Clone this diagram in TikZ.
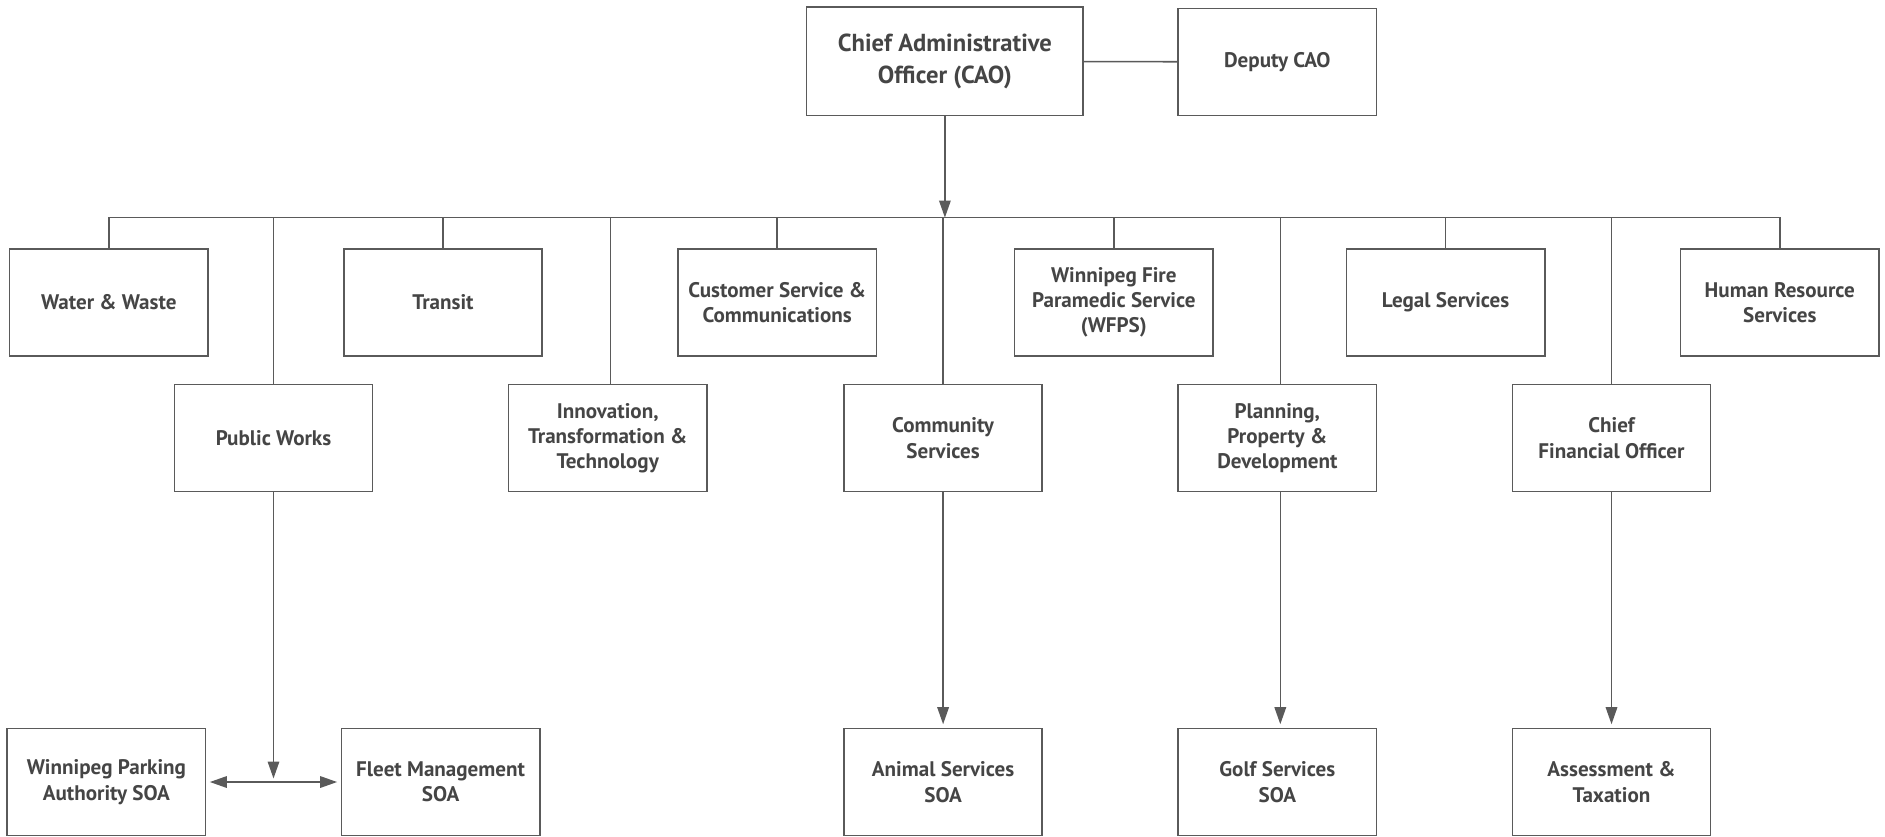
\documentclass[tikz,border=0pt]{standalone}
\usepackage{fontspec}
\setmainfont{PT Sans}
\usetikzlibrary{positioning,arrows.meta}
\definecolor{orgline}{HTML}{5A5A5A}
\definecolor{orgtext}{HTML}{454545}
\tikzset{
  linkline/.style={line width=0.9pt, draw=orgline},
  linkarrow/.style={linkline, -{Triangle[length=3.4mm, width=2.3mm]}},
  bothwayarrow/.style={linkline, {Triangle[length=3.4mm, width=2.3mm]}-{Triangle[length=3.4mm, width=2.3mm]}},
  unitbox/.style={draw=orgline, line width=0.9pt, fill=white, minimum width=3.967cm, minimum height=2.14cm, align=center, text=orgtext, font=\bfseries\fontsize{12}{14.4}\selectfont},
  topbox/.style={unitbox, minimum width=5.53cm, minimum height=2.164cm, font=\bfseries\fontsize{14}{18.4}\selectfont}
}
\begin{document}
\begin{tikzpicture}[x=0.024044cm, y=-0.024044cm]
  \useasboundingbox (0,0) rectangle (1568,696);
  % top
  \node[topbox] (cao) at (786,51) {Chief Administrative\\Officer (CAO)};
  \node[unitbox] (deputy) at (1062.5,51.5) {Deputy CAO};
  \coordinate (bus) at (786,181);
  % first row
  \node[unitbox] (water) at (90.5,251.5) {Water \& Waste};
  \node[unitbox] (transit) at (368.5,251.5) {Transit};
  \node[unitbox] (custserv) at (646.5,251.5) {Customer Service \&\\Communications};
  \node[unitbox] (wfps) at (926.5,251.5) {Winnipeg Fire\\Paramedic Service\\(WFPS)};
  \node[unitbox] (legal) at (1202.5,251.5) {Legal Services};
  \node[unitbox] (hr) at (1480.5,251.5) {Human Resource\\Services};
  % second row
  \node[unitbox] (pubworks) at (227.5,364.5) {Public Works};
  \node[unitbox] (innov) at (505.5,364.5) {Innovation,\\Transformation \&\\Technology};
  \node[unitbox] (community) at (784.5,364.5) {Community\\Services};
  \node[unitbox] (planning) at (1062.5,364.5) {Planning,\\Property \&\\Development};
  \node[unitbox] (cfo) at (1340.5,364.5) {Chief\\Financial Officer};
  % special operating agencies
  \node[unitbox] (parking) at (88.5,650.5) {Winnipeg Parking\\Authority SOA};
  \node[unitbox] (fleet) at (366.5,650.5) {Fleet Management\\SOA};
  \node[unitbox] (animal) at (784.5,650.5) {Animal Services\\SOA};
  \node[unitbox] (golf) at (1062.5,650.5) {Golf Services\\SOA};
  \node[unitbox] (assess) at (1340.5,650.5) {Assessment \&\\Taxation};

  \draw[linkline] (cao) -- (deputy);
  \draw[linkarrow] (cao) -- (bus);
  \draw[linkline] (water.north) -- (water.north |- bus) -- (hr.north |- bus) -- (hr.north);
  \foreach \n in {transit,custserv,wfps,legal,pubworks,community,cfo}
    \draw[linkline] (\n.north) -- (\n.north |- bus);
  \draw[linkline] ([xshift=0.06cm]innov.north) -- ([xshift=0.06cm]innov.north |- bus);
  \draw[linkline] ([xshift=0.06cm]planning.north) -- ([xshift=0.06cm]planning.north |- bus);

  \coordinate (pwjoin) at (pubworks.south |- parking.east);
  \draw[linkarrow, shorten >=0.7mm] (pubworks) -- (pwjoin);
  \draw[bothwayarrow, shorten <=0.7mm, shorten >=0.7mm] (parking) -- (fleet);
  \draw[linkarrow, shorten >=0.7mm] (community) -- (animal);
  \draw[linkarrow, shorten >=0.7mm] ([xshift=0.06cm]planning.south) -- ([xshift=0.06cm]golf.north);
  \draw[linkarrow, shorten >=0.7mm] (cfo) -- (assess);
\end{tikzpicture}
\end{document}
